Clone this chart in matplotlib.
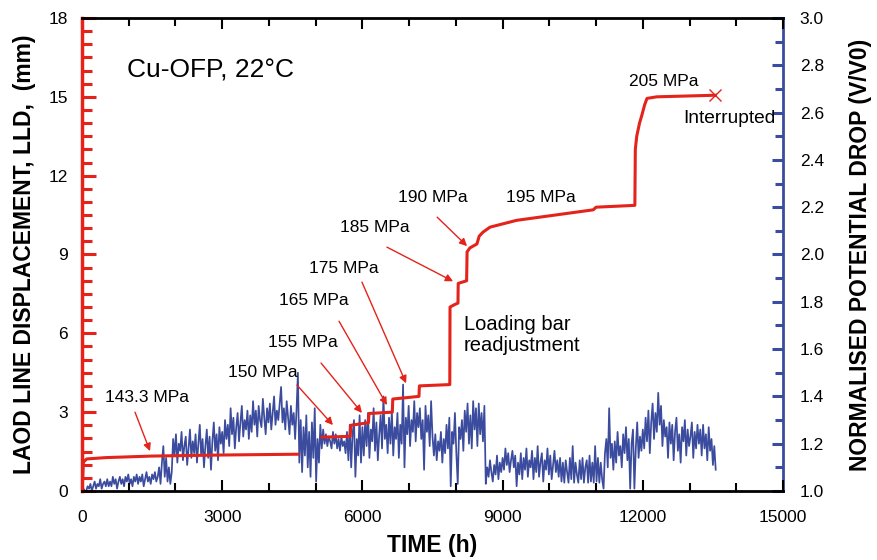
import numpy as np
import matplotlib
matplotlib.use("Agg")
import matplotlib.pyplot as plt
from matplotlib.ticker import MultipleLocator

plt.rcParams['font.family'] = ['Liberation Sans', 'DejaVu Sans']

RED = '#e4231b'
BLUE = '#3b4b9e'

# load line displacement (mm) vs time (h); NaN = gap in the record
lld_time = [0, 30, 100, 500, 1500, 3000, 4620, 4630,
            5140, 5740, 5750, 6130, 6140, 6640, 6650, 7210, 7220, 7870,
            7875, 7980, 8045, 8050, 8230, 8240, 8300, 8450, 8500, 8580, 8730,
            9300, 10940, 11000, 11830, 11840, 11870, 11930, 11980, 12040, 12090, 12300, 13550]
lld_mm = [0.0, 1.1, 1.22, 1.27, 1.33, 1.37, 1.40, np.nan,
          2.05, 2.08, 2.5, 2.6, 2.95, 3.0, 3.5, 3.6, 4.0, 4.05,
          7.0, 7.1, 7.15, 7.9, 8.0, 9.1, 9.25, 9.4, 9.7, 9.85, 10.04,
          10.3, 10.7, 10.8, 10.87, 13.0, 13.5, 14.0, 14.3, 14.7, 14.94, 15.0, 15.06]

# normalised potential drop, logged every 30 h
pd_interval = 30
pd_values = [
    1.03, 1.01, 1.00, 1.00, 1.02, 1.01, 1.03, 1.00, 1.02, 1.04, 1.01, 1.03, 1.02, 1.05, 1.01, 1.03, 1.04, 1.02, 1.05, 1.02,
    1.04, 1.02, 1.06, 1.03, 1.05, 1.01, 1.04, 1.06, 1.03, 1.05, 1.02, 1.06, 1.04, 1.07, 1.03, 1.05, 1.02, 1.06, 1.04, 1.07,
    1.03, 1.06, 1.04, 1.07, 1.02, 1.05, 1.08, 1.04, 1.06, 1.03, 1.07, 1.05, 1.08, 1.04, 1.06, 1.10, 1.03, 1.12, 1.19, 1.06,
    1.14, 1.04, 1.10, 1.03, 1.08, 1.22, 1.15, 1.24, 1.12, 1.20, 1.17, 1.25, 1.13, 1.19, 1.23, 1.11, 1.18, 1.26, 1.14, 1.21,
    1.16, 1.24, 1.12, 1.20, 1.28, 1.15, 1.22, 1.10, 1.19, 1.26, 1.14, 1.23, 1.09, 1.21, 1.29, 1.17, 1.24, 1.13, 1.27, 1.20,
    1.25, 1.16, 1.30, 1.22, 1.28, 1.19, 1.35, 1.24, 1.31, 1.18, 1.27, 1.33, 1.21, 1.29, 1.36, 1.23, 1.30, 1.26, 1.34, 1.22,
    1.32, 1.25, 1.38, 1.28, 1.34, 1.23, 1.36, 1.30, 1.27, 1.39, 1.31, 1.24, 1.35, 1.29, 1.37, 1.26, 1.33, 1.40, 1.28, 1.34,
    1.30, 1.37, 1.44, 1.29, 1.35, 1.26, 1.38, 1.31, 1.24, 1.36, 1.28, 1.33, 1.22, 1.34, 1.50, 1.12, 1.30, 1.08, 1.27, 1.15,
    1.32, 1.10, 1.25, 1.06, 1.29, 1.14, 1.35, 1.04, 1.22, 1.12, 1.28, 1.18, 1.26, 1.20, 1.24, 1.19, 1.23, 1.21, 1.18, 1.25,
    1.20, 1.24, 1.18, 1.22, 1.17, 1.23, 1.19, 1.21, 1.16, 1.25, 1.13, 1.28, 1.10, 1.24, 1.30, 1.06, 1.22, 1.15, 1.32, 1.12,
    1.27, 1.15, 1.30, 1.19, 1.33, 1.14, 1.26, 1.21, 1.35, 1.17, 1.29, 1.13, 1.24, 1.32, 1.18, 1.40, 1.22, 1.28, 1.16, 1.31,
    1.20, 1.34, 1.15, 1.27, 1.22, 1.33, 1.14, 1.28, 1.20, 1.45, 1.10, 1.31, 1.24, 1.36, 1.19, 1.30, 1.25, 1.38, 1.21, 1.33,
    1.27, 1.35, 1.22, 1.30, 1.09, 1.36, 1.25, 1.32, 1.19, 1.38, 1.23, 1.15, 1.24, 1.13, 1.21, 1.17, 1.25, 1.12, 1.22, 1.16,
    1.28, 1.18, 1.31, 1.02, 1.25, 1.20, 1.33, 1.16, 1.03, 1.27, 1.22, 1.30, 1.17, 1.34, 1.25, 1.37, 1.20, 1.32, 1.18, 1.38,
    1.26, 1.35, 1.19, 1.37, 1.24, 1.33, 1.21, 1.36, 1.03, 1.10, 1.06, 1.13, 1.08, 1.04, 1.11, 1.07, 1.15, 1.05, 1.12, 1.08,
    1.14, 1.09, 1.18, 1.11, 1.16, 1.08, 1.13, 1.17, 1.10, 1.15, 1.02, 1.12, 1.07, 1.16, 1.05, 1.14, 1.09, 1.18, 1.06, 1.13,
    1.10, 1.17, 1.05, 1.14, 1.08, 1.19, 1.06, 1.12, 1.16, 1.04, 1.13, 1.09, 1.18, 1.07, 1.15, 1.05, 1.11, 1.17, 1.08, 1.13,
    1.06, 1.14, 1.04, 1.12, 1.035, 1.13, 1.08, 1.035, 1.14, 1.05, 1.19, 1.035, 1.12, 1.07, 1.035, 1.13, 1.05, 1.14, 1.035, 1.10,
    1.13, 1.035, 1.15, 1.04, 1.12, 1.035, 1.19, 1.04, 1.14, 1.035, 1.12, 1.05, 1.01, 1.16, 1.22, 1.10, 1.35, 1.14, 1.20, 1.09,
    1.21, 1.12, 1.25, 1.15, 1.19, 1.10, 1.24, 1.16, 1.27, 1.13, 1.22, 1.01, 1.20, 1.26, 1.01, 1.18, 1.29, 1.14, 1.23, 1.17,
    1.26, 1.18, 1.31, 1.21, 1.34, 1.16, 1.29, 1.37, 1.22, 1.33, 1.25, 1.415, 1.28, 1.36, 1.19, 1.30, 1.23, 1.27, 1.14, 1.29,
    1.20, 1.28, 1.13, 1.25, 1.31, 1.17, 1.24, 1.12, 1.27, 1.21, 1.30, 1.15, 1.26, 1.19, 1.23, 1.29, 1.14, 1.25, 1.18, 1.28,
    1.20, 1.26, 1.15, 1.28, 1.18, 1.24, 1.13, 1.27, 1.17, 1.22, 1.11, 1.19, 1.09,
]
pd_time = np.arange(len(pd_values)) * pd_interval

# stress labels: text, label anchor (t, mm), arrow tail, arrow head
stress_labels = ['143.3 MPa', '150 MPa', '155 MPa', '165 MPa', '175 MPa', '185 MPa', '190 MPa']
label_xy = [(492, 3.54), (3125, 4.52), (3980, 5.67), (4215, 7.26), (4860, 8.48), (5520, 10.04), (6760, 11.18)]
arrow_from = [(1134, 3.0), (4600, 4.03), (5115, 4.87), (5500, 6.46), (5990, 7.95), (6525, 9.28), (7600, 10.42)]
arrow_to = [(1455, 1.52), (5370, 2.51), (5990, 2.97), (6525, 3.27), (6935, 4.1), (7940, 7.98), (8240, 9.32)]

fig = plt.figure(figsize=(8.78, 5.60), dpi=100)
ax1 = fig.add_axes([0.0934, 0.1232, 0.7984, 0.8447])
ax2 = ax1.twinx()

# potential drop underneath, displacement on top
ax2.plot(pd_time, pd_values, color=BLUE, lw=1.25)
ax1.set_zorder(ax2.get_zorder() + 1)
ax1.patch.set_visible(False)
ax1.plot(lld_time, lld_mm, color=RED, lw=2.2, solid_joinstyle='round')
ax1.plot([lld_time[-1]], [lld_mm[-1]], marker='x', color=RED, ms=9, mew=1.0)

ax1.set_xlim(0, 15000)
ax1.set_ylim(0, 18)
ax2.set_ylim(1.0, 3.0)

ax1.xaxis.set_major_locator(MultipleLocator(3000))
ax1.xaxis.set_minor_locator(MultipleLocator(1000))
ax1.yaxis.set_major_locator(MultipleLocator(3))
ax1.yaxis.set_minor_locator(MultipleLocator(0.5))
ax2.yaxis.set_major_locator(MultipleLocator(0.2))
ax2.yaxis.set_minor_locator(MultipleLocator(0.1))
ax2.yaxis.set_major_formatter(matplotlib.ticker.FormatStrFormatter('%.1f'))

ax1.tick_params(axis='x', which='both', direction='in', top=True, colors='black',
                labelsize=12.5, width=1.5, pad=14)
ax1.tick_params(axis='x', which='major', length=8)
ax1.tick_params(axis='x', which='minor', length=6)
ax1.tick_params(axis='y', which='both', direction='in', color=RED, width=2.2,
                labelsize=12.5, labelcolor='black', right=False, pad=10)
ax1.tick_params(axis='y', which='major', length=10)
ax1.tick_params(axis='y', which='minor', length=7)
ax2.tick_params(axis='y', which='both', direction='in', color=BLUE, width=2.2,
                labelsize=12.5, labelcolor='black', pad=12)
ax2.tick_params(axis='y', which='major', length=8)
ax2.tick_params(axis='y', which='minor', length=6)

for s in ['top', 'bottom']:
    ax1.spines[s].set_linewidth(2.0)
    ax1.spines[s].set_color('black')
ax1.spines['left'].set_color(RED)
ax1.spines['left'].set_linewidth(2.5)
ax1.spines['right'].set_visible(False)
ax2.spines['left'].set_visible(False)
ax2.spines['top'].set_visible(False)
ax2.spines['bottom'].set_visible(False)
ax2.spines['right'].set_color(BLUE)
ax2.spines['right'].set_linewidth(2.0)

ax1.set_xlabel('TIME (h)', fontsize=16.5, fontweight='bold', labelpad=6)
ax1.set_ylabel('LAOD LINE DISPLACEMENT, LLD,  (mm)', fontsize=16.5, fontweight='bold', labelpad=9)
ax2.set_ylabel('NORMALISED POTENTIAL DROP (V/V0)', fontsize=16.5, fontweight='bold', labelpad=18)

ax1.text(963, 16.0, 'Cu-OFP, 22°C', fontsize=19, ha='left', va='center')
for lab, xy, a, b in zip(stress_labels, label_xy, arrow_from, arrow_to):
    ax1.text(xy[0], xy[1], lab, fontsize=12.5, ha='left', va='center')
    ax1.annotate('', xy=b, xytext=a,
                 arrowprops=dict(arrowstyle='-|>', color=RED, lw=1.0,
                                 mutation_scale=11, shrinkA=0, shrinkB=0))
ax1.text(9070, 11.18, '195 MPa', fontsize=12.5, ha='left', va='center')
ax1.text(11700, 15.59, '205 MPa', fontsize=12.5, ha='left', va='center')
ax1.text(12860, 14.18, 'Interrupted', fontsize=13.8, ha='left', va='center')
ax1.text(8175, 5.93, 'Loading bar\nreadjustment', fontsize=14.5, ha='left', va='center',
         linespacing=1.15)

fig.savefig('out.png', dpi=100)
